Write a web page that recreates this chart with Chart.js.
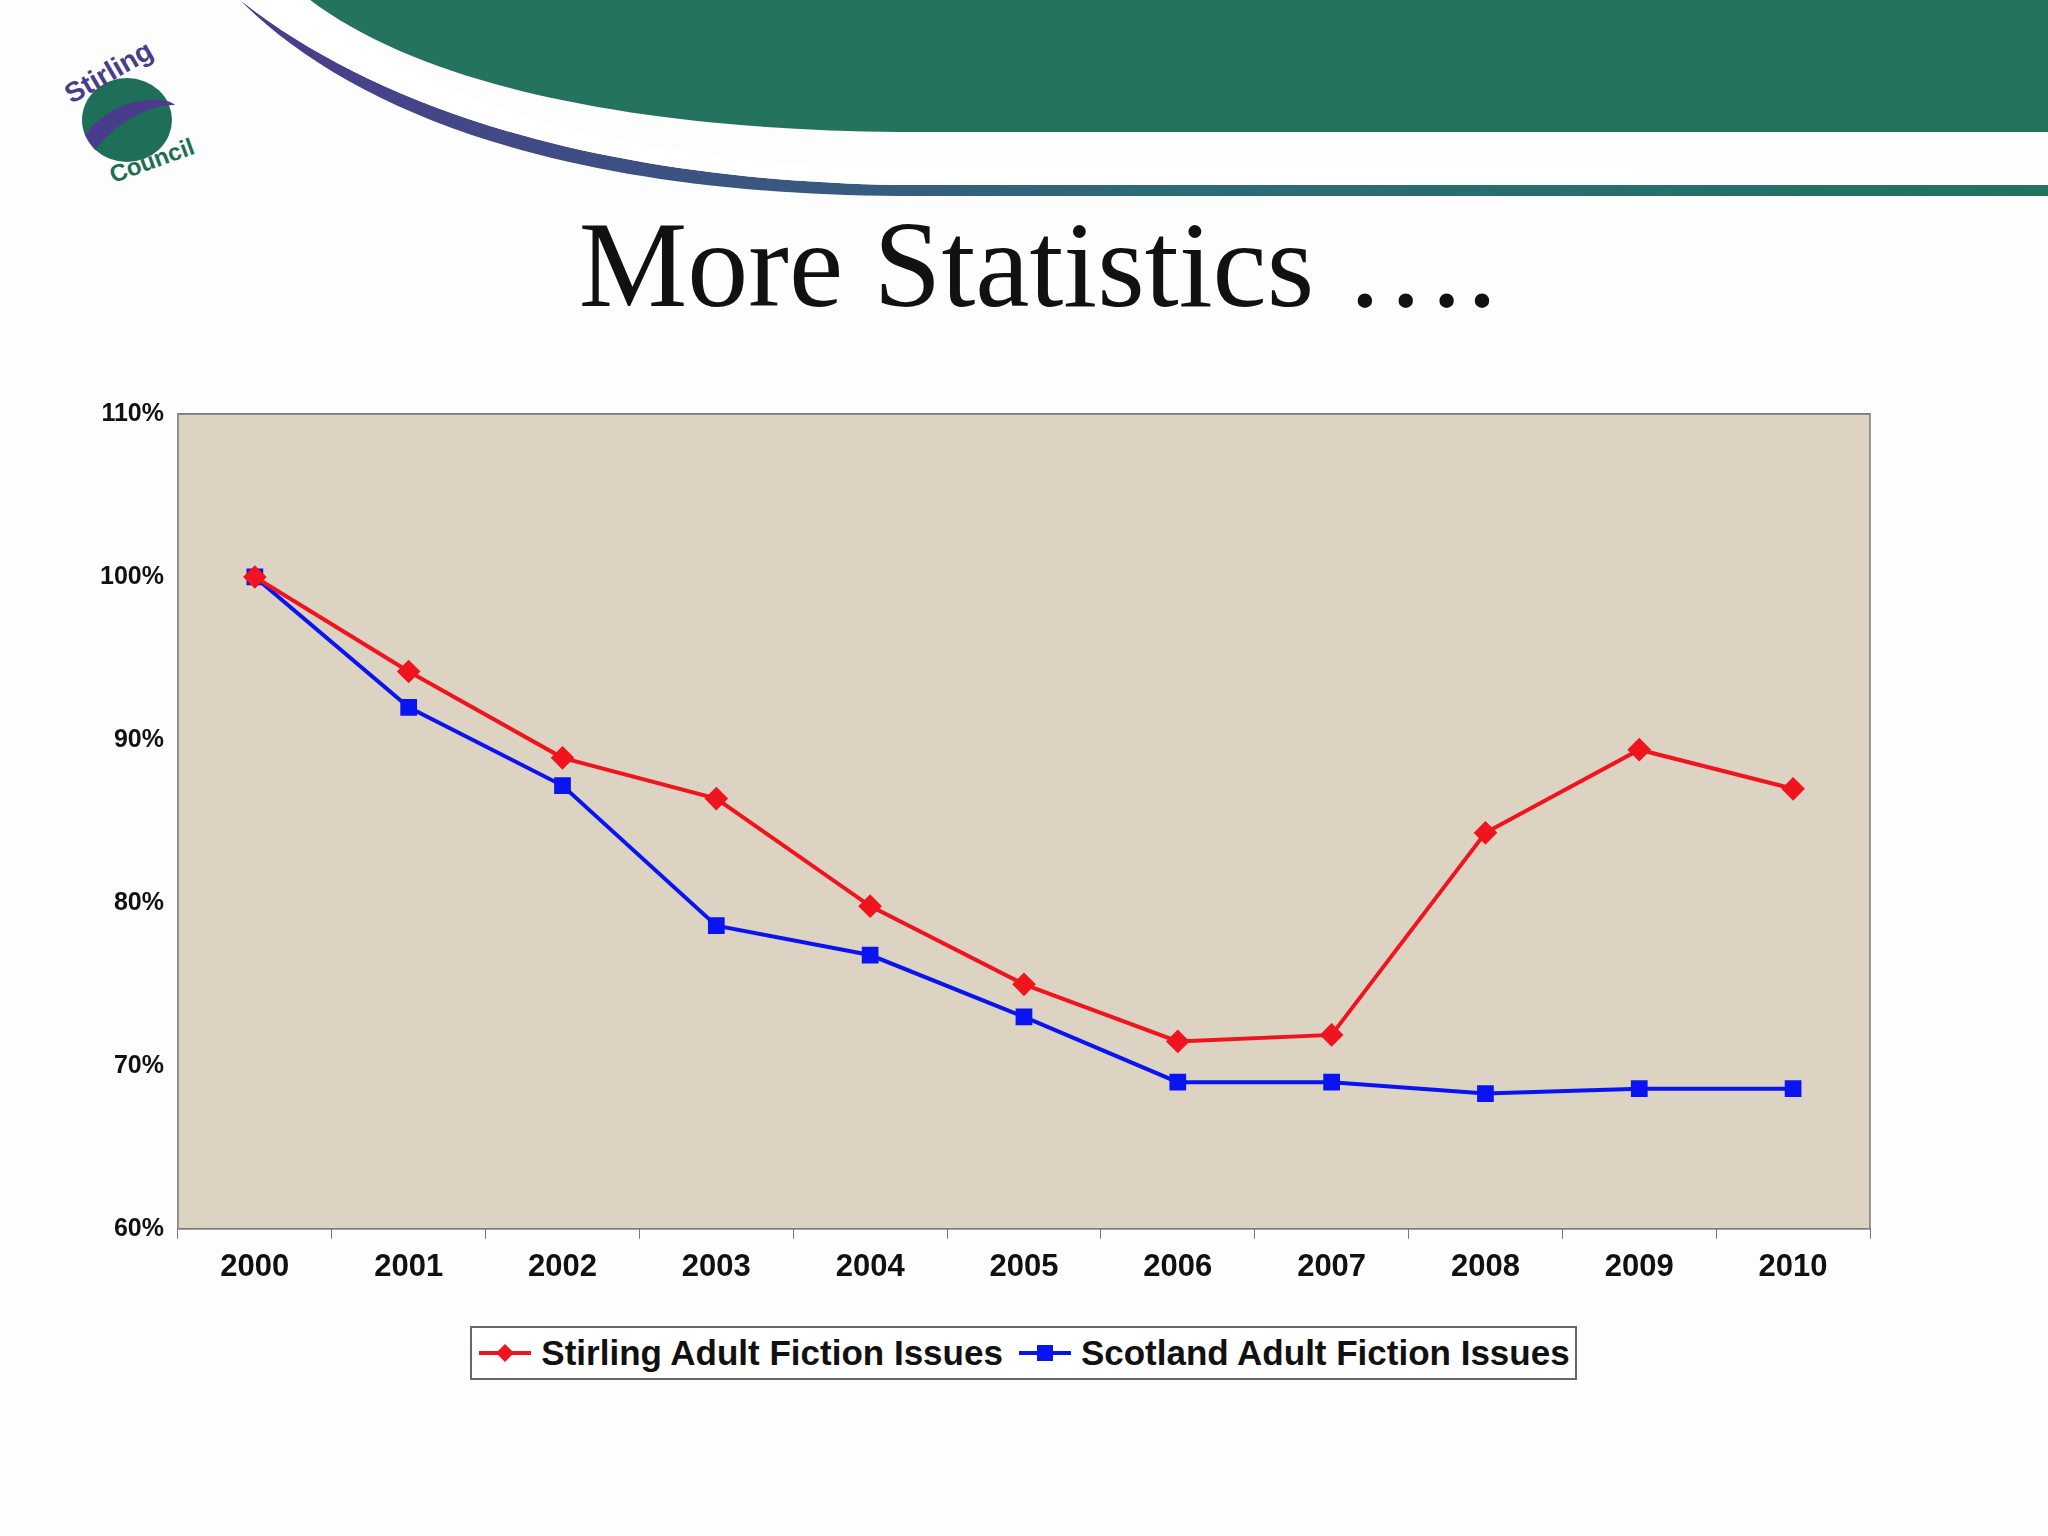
<!DOCTYPE html>
<html><head><meta charset="utf-8">
<script src="https://cdn.jsdelivr.net/npm/chart.js@4"></script>
<style>
html,body{margin:0;padding:0;background:#fdfdfd;width:2048px;height:1536px;overflow:hidden;position:relative;font-family:"Liberation Sans",Arial,sans-serif}
#title{position:absolute;left:0;width:2076px;top:195px;text-align:center;font-family:"Liberation Serif","Times New Roman",serif;font-size:122px;color:#111}
#wrap{position:absolute;left:60px;top:385px;width:1920px;height:931px}
#logo{position:absolute;left:55px;top:35px;width:150px;height:150px}
#legend{position:absolute;left:470px;top:1326px;width:1103px;height:50px;border:2px solid #666;display:flex;align-items:center;justify-content:center;gap:14px;font-weight:bold;font-size:35px;color:#111;background:#fff}
#legend span{display:flex;align-items:center;gap:8px}
</style></head><body>
<svg width="2048" height="200" style="position:absolute;left:0;top:0">
<defs><linearGradient id="g" x1="0" x2="1"><stop offset="0" stop-color="#4a3c8c"/><stop offset="0.5" stop-color="#2d6a78"/><stop offset="1" stop-color="#23735f"/></linearGradient></defs>
<path d="M240,0 C380,110 600,180 900,185 L2048,185 L2048,196 L900,196 C580,194 360,120 240,0 Z" fill="url(#g)"/>
<path d="M310,0 C430,90 650,130 900,132 L2048,132 L2048,0 Z" fill="#24735f"/>
<path d="M240,0 C380,110 600,180 900,185 L2048,185 L2048,168 L900,168 C640,166 430,110 310,0 Z" fill="#ffffff"/>
</svg>
<svg id="logo" viewBox="0 0 150 150">
<ellipse cx="72" cy="85" rx="45" ry="42" fill="#1f6e58"/>
<path d="M30,100 C60,60 110,60 120,70 C90,70 60,90 40,115 Z" fill="#4a3c8c"/>
<text x="10" y="55" font-size="28" font-weight="bold" fill="#4a3c8c" transform="rotate(-30 40 50)">Stirling</text>
<text x="55" y="140" font-size="24" font-weight="bold" fill="#1f6e58" transform="rotate(-20 80 135)">Council</text>
</svg>
<div id="title">More Statistics ….</div>
<div id="wrap"><canvas id="c"></canvas></div>
<div id="legend">
<span><svg width="56" height="24"><line x1="2" y1="12" x2="54" y2="12" stroke="#f0141e" stroke-width="4"/><path d="M28,3 L37,12 L28,21 L19,12 Z" fill="#f0141e"/></svg>Stirling Adult Fiction Issues</span>
<span><svg width="56" height="24"><line x1="2" y1="12" x2="54" y2="12" stroke="#0a14f0" stroke-width="4"/><rect x="20" y="4" width="16" height="16" fill="#0a14f0"/></svg>Scotland Adult Fiction Issues</span>
</div>
<script>
const years=["2000","2001","2002","2003","2004","2005","2006","2007","2008","2009","2010"];
const stirling=[100,94.2,88.9,86.4,79.8,75.0,71.5,71.9,84.3,89.4,87.0];
const scotland=[100,92.0,87.2,78.6,76.8,73.0,69.0,69.0,68.3,68.6,68.6];
const bg={id:'bg',beforeDatasetsDraw(ch){const a=ch.chartArea,c=ch.ctx;c.save();c.fillStyle='#ddd3c2';c.fillRect(a.left,a.top,a.right-a.left,a.bottom-a.top);c.restore();},
afterDraw(ch){const a=ch.chartArea,c=ch.ctx;c.save();c.strokeStyle='#777';c.lineWidth=1.5;c.strokeRect(a.left,a.top,a.right-a.left,a.bottom-a.top);c.restore();}};
new Chart(document.getElementById('c'),{type:'line',data:{labels:years,datasets:[
{label:'Stirling Adult Fiction Issues',data:stirling,borderColor:'#f0141e',backgroundColor:'#f0141e',borderWidth:4,pointStyle:'rectRot',pointRadius:9,tension:0},
{label:'Scotland Adult Fiction Issues',data:scotland,borderColor:'#0a14f0',backgroundColor:'#0a14f0',borderWidth:4,pointStyle:'rect',pointRadius:9,tension:0}]},
plugins:[bg],
options:{responsive:true,maintainAspectRatio:false,animation:false,devicePixelRatio:1,
layout:{padding:{left:26,right:110,top:15,bottom:20}},
plugins:{legend:{display:false},tooltip:{enabled:false}},
scales:{y:{min:60,max:110,ticks:{stepSize:10,callback:v=>v+'%',font:{size:25,weight:'bold'},color:'#111',padding:14},grid:{color:'#8a8478',lineWidth:1.2,tickLength:0,drawTicks:false},border:{display:false}},
x:{offset:true,grid:{offset:true,drawOnChartArea:false,tickLength:10,color:'#777'},ticks:{font:{size:31,weight:'bold'},color:'#111',padding:10},border:{color:'#777'}}}}});
</script></body></html>
